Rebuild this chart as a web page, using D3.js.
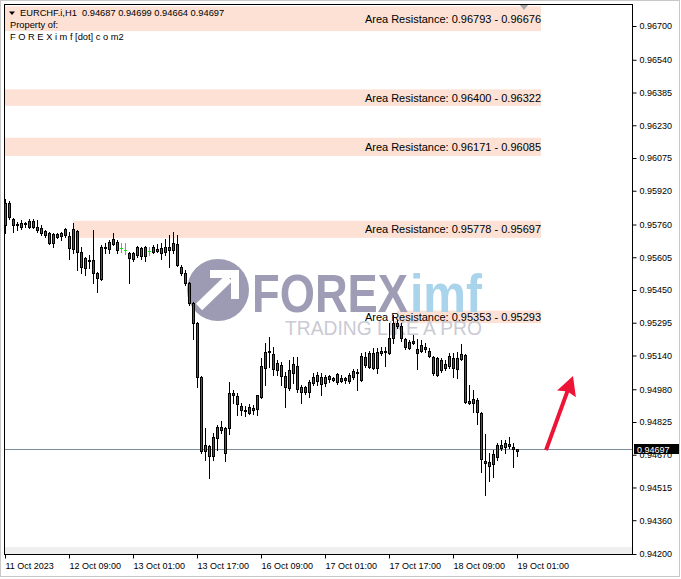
<!DOCTYPE html>
<html><head><meta charset="utf-8">
<script src="https://cdn.jsdelivr.net/npm/d3@7"></script>
<style>
body{margin:0;background:#fff;}
svg{display:block;font-family:"Liberation Sans",Arial,sans-serif;}
</style>
</head><body>
<svg id="c" width="681" height="579"></svg>
<script>
// ---------------- DATA ----------------
const symbolTitle = "EURCHF.i,H1";
const ownerLines = ["Property of:", "F O R E X i m f [dot] c o m2"];
const timeLabels = ["11 Oct 2023","12 Oct 09:00","13 Oct 01:00","13 Oct 17:00","16 Oct 09:00","17 Oct 01:00","17 Oct 17:00","18 Oct 09:00","19 Oct 01:00"];
const timeLabelBar = [0,16,32,48,64,80,96,112,128];
const priceTickValues = [0.96700,0.96540,0.96385,0.96230,0.96075,0.95920,0.95760,0.95605,0.95450,0.95295,0.95140,0.94980,0.94825,0.94670,0.94515,0.94360,0.94200];
const priceTickLabels = ["0.96700","0.96540","0.96385","0.96230","0.96075","0.95920","0.95760","0.95605","0.95450","0.95295","0.95140","0.94980","0.94825","0.94670","0.94515","0.94360","0.94200"];

const opens = [0.95758,0.95862,0.95786,0.95758,0.95748,0.95763,0.95748,0.95777,0.95734,0.95744,
0.95710,0.95720,0.95672,0.95701,0.95706,0.95710,0.95706,0.95644,0.95729,0.95630,
0.95554,0.95592,0.95592,0.95530,0.95502,0.95649,0.95644,0.95668,0.95677,0.95649,
0.95639,0.95625,0.95597,0.95616,0.95649,0.95611,0.95635,0.95630,0.95644,0.95649,
0.95630,0.95654,0.95639,0.95668,0.95559,0.95530,0.95483,0.95388,0.95294,0.95038,
0.94688,0.94711,0.94664,0.94749,0.94801,0.94678,0.94797,0.94953,0.94948,0.94901,
0.94877,0.94868,0.94882,0.94887,0.94943,0.95081,0.95156,0.95147,0.95071,0.95095,
0.95043,0.94986,0.95057,0.95090,0.94991,0.94991,0.94967,0.95010,0.95019,0.95038,
0.95010,0.95043,0.95024,0.95014,0.95019,0.95033,0.95019,0.95038,0.95057,0.95024,
0.95133,0.95085,0.95152,0.95081,0.95152,0.95156,0.95152,0.95223,0.95280,0.95280,
0.95218,0.95175,0.95199,0.95171,0.95161,0.95180,0.95161,0.95133,0.95048,0.95119,
0.95081,0.95090,0.95128,0.95076,0.95123,0.95142,0.94915,0.94915,0.94929,0.94868,
0.94640,0.94617,0.94626,0.94659,0.94702,0.94707,0.94711,0.94707,0.94687];
const highs = [0.95881,0.95871,0.95791,0.95772,0.95781,0.95772,0.95786,0.95786,0.95781,0.95758,
0.95734,0.95725,0.95720,0.95720,0.95725,0.95744,0.95725,0.95767,0.95734,0.95654,
0.95606,0.95616,0.95734,0.95535,0.95663,0.95672,0.95687,0.95720,0.95687,0.95672,
0.95672,0.95630,0.95630,0.95658,0.95654,0.95658,0.95654,0.95663,0.95668,0.95672,
0.95692,0.95710,0.95725,0.95710,0.95568,0.95545,0.95488,0.95393,0.95299,0.95043,
0.94797,0.94716,0.94773,0.94811,0.94830,0.94801,0.95014,0.94977,0.94962,0.94915,
0.94901,0.94910,0.94906,0.94953,0.95128,0.95199,0.95227,0.95180,0.95119,0.95109,
0.95062,0.95119,0.95133,0.95133,0.95000,0.94995,0.95024,0.95057,0.95062,0.95057,
0.95048,0.95048,0.95038,0.95057,0.95048,0.95038,0.95057,0.95076,0.95076,0.95152,
0.95156,0.95161,0.95175,0.95175,0.95180,0.95180,0.95294,0.95332,0.95308,0.95294,
0.95223,0.95213,0.95237,0.95218,0.95213,0.95199,0.95175,0.95138,0.95133,0.95128,
0.95119,0.95152,0.95152,0.95156,0.95194,0.95147,0.95000,0.94977,0.94939,0.94872,
0.94768,0.94678,0.94692,0.94726,0.94740,0.94740,0.94754,0.94726,0.94699];
const lows = [0.95720,0.95786,0.95725,0.95734,0.95739,0.95748,0.95744,0.95744,0.95725,0.95710,
0.95701,0.95668,0.95654,0.95696,0.95687,0.95701,0.95597,0.95625,0.95545,0.95530,
0.95521,0.95554,0.95483,0.95441,0.95497,0.95625,0.95625,0.95663,0.95625,0.95630,
0.95620,0.95483,0.95587,0.95606,0.95597,0.95587,0.95616,0.95625,0.95630,0.95597,
0.95616,0.95559,0.95625,0.95564,0.95521,0.95474,0.95379,0.95218,0.94991,0.94678,
0.94645,0.94560,0.94645,0.94692,0.94773,0.94640,0.94768,0.94915,0.94858,0.94858,
0.94853,0.94863,0.94863,0.94858,0.94939,0.95000,0.95085,0.95048,0.95048,0.95000,
0.94896,0.94977,0.95010,0.94967,0.94915,0.94958,0.94943,0.95000,0.95000,0.94953,
0.94995,0.95014,0.95019,0.95005,0.95014,0.95010,0.95010,0.95029,0.94977,0.95019,
0.95085,0.95081,0.95076,0.95057,0.95142,0.95090,0.95147,0.95199,0.95270,0.95208,
0.95171,0.95171,0.95194,0.95076,0.95156,0.95156,0.95133,0.95048,0.95043,0.95062,
0.95071,0.95081,0.95038,0.95033,0.95119,0.94915,0.94910,0.94872,0.94816,0.94588,
0.94479,0.94546,0.94565,0.94645,0.94692,0.94678,0.94702,0.94612,0.94664];
const closes = [0.95862,0.95796,0.95758,0.95763,0.95767,0.95767,0.95777,0.95748,0.95748,0.95720,
0.95729,0.95672,0.95715,0.95715,0.95720,0.95739,0.95649,0.95739,0.95630,0.95559,
0.95601,0.95587,0.95530,0.95507,0.95654,0.95654,0.95677,0.95692,0.95639,0.95649,
0.95639,0.95601,0.95625,0.95654,0.95611,0.95654,0.95635,0.95654,0.95635,0.95625,
0.95654,0.95639,0.95672,0.95568,0.95530,0.95483,0.95388,0.95294,0.95038,0.94688,
0.94716,0.94664,0.94754,0.94801,0.94787,0.94797,0.94962,0.94962,0.94910,0.94882,
0.94882,0.94896,0.94891,0.94953,0.95090,0.95156,0.95161,0.95076,0.95104,0.95043,
0.94991,0.95071,0.95100,0.94981,0.94967,0.94967,0.95014,0.95038,0.95048,0.95005,
0.95038,0.95029,0.95033,0.95052,0.95033,0.95024,0.95048,0.95067,0.95062,0.95138,
0.95095,0.95152,0.95081,0.95156,0.95161,0.95161,0.95223,0.95294,0.95294,0.95223,
0.95180,0.95204,0.95208,0.95152,0.95190,0.95171,0.95138,0.95057,0.95128,0.95071,
0.95100,0.95138,0.95081,0.95128,0.95147,0.94920,0.94924,0.94934,0.94872,0.94650,
0.94631,0.94636,0.94673,0.94716,0.94716,0.94726,0.94721,0.94697,0.94697];

const zoneHigh  = [0.96793,0.96400,0.96171,0.95778,0.95353];
const zoneLow   = [0.96676,0.96322,0.96085,0.95697,0.95293];
const zoneStart = [-2,-2,-2,17,98];
const zoneEnd   = [134,134,134,134,134];
const zoneName  = "Area Resistance: ";

const lastPrice = 0.94697;
const arrowTail = [135.25, 0.94692];
const arrowTip  = [142, 0.95043];

// ---------------- LAYOUT ----------------
const svg = d3.select("#c");
const L = 4, R = 633, T = 4, B = 555;
const x = d3.scaleLinear().domain([0,128]).range([5,517]);
const y = d3.scaleLinear().domain([0.942,0.967]).range([554,26]);

const colUp = "#078a07", colDn = "#f01010", colDoji = "#1ee01e";

svg.append("defs").append("clipPath").attr("id","clip")
  .append("rect").attr("x",L).attr("y",T).attr("width",R-L).attr("height",B-T);

// outer frame
svg.append("rect").attr("x",0.5).attr("y",0.5).attr("width",679).attr("height",576)
  .attr("fill","#fff").attr("stroke","#c8c8c8");

const plot = svg.append("g").attr("clip-path","url(#clip)");

// bottom grey strip
plot.append("rect").attr("x",L).attr("y",547).attr("width",R-L).attr("height",B-547).attr("fill","#efefef");

// zones
const zones = zoneHigh.map((h,i)=>({h, l:zoneLow[i], s:zoneStart[i], e:zoneEnd[i]}));
plot.selectAll("rect.zone").data(zones).join("rect").attr("class","zone")
  .attr("x", d=>x(d.s)).attr("width", d=>x(d.e)-x(d.s))
  .attr("y", d=>y(d.h)).attr("height", d=>y(d.l)-y(d.h))
  .attr("fill","#fce1d4");

// watermark
const wm = plot.append("g");
wm.append("circle").attr("cx",218).attr("cy",290).attr("r",31).attr("fill","#9c9bb3");
wm.append("path").attr("d","M199,307 L229,278").attr("stroke","#fff").attr("stroke-width",9).attr("fill","none");
wm.append("path").attr("d","M210,274 L235,274 L235,299").attr("stroke","#fff").attr("stroke-width",8).attr("fill","none").attr("stroke-linejoin","miter");
wm.append("text").attr("x",252).attr("y",312).attr("textLength",156).attr("lengthAdjust","spacingAndGlyphs")
  .attr("font-size",54).attr("font-weight","bold").attr("fill","#9e9db5").text("FOREX");
wm.append("text").attr("x",410).attr("y",312).attr("textLength",72).attr("lengthAdjust","spacingAndGlyphs")
  .attr("font-size",54).attr("font-weight","bold").attr("fill","#a9d4ec").text("imf");
wm.append("text").attr("x",285).attr("y",335).attr("textLength",197).attr("lengthAdjust","spacingAndGlyphs")
  .attr("font-size",21).attr("fill","#cacad4").text("TRADING LIKE A PRO");

// zone labels
plot.selectAll("text.zl").data(zones).join("text").attr("class","zl")
  .attr("x", d=>x(d.e)).attr("y", d=>(y(d.h)+y(d.l))/2 + 4)
  .attr("text-anchor","end").attr("font-size",11).attr("fill","#000")
  .text(d=>zoneName + d.h.toFixed(5) + " - " + d.l.toFixed(5));

// last price line
plot.append("line").attr("x1",L).attr("x2",R).attr("y1",Math.round(y(lastPrice))+0.5).attr("y2",Math.round(y(lastPrice))+0.5)
  .attr("stroke","#7b8b9b").attr("stroke-width",1);

// candles
const candles = opens.map((o,i)=>({i,o,h:highs[i],l:lows[i],c:closes[i]}));
const cg = plot.append("g");
cg.selectAll("rect.wick").data(candles).join("rect").attr("class","wick")
  .attr("x", d=>Math.round(x(d.i))).attr("width",1)
  .attr("y", d=>Math.round(y(d.h)))
  .attr("height", d=>Math.round(y(d.l))-Math.round(y(d.h))+1)
  .attr("fill", d=>d.o===d.c?colDoji:"#000");
const bodies = candles.filter(d=>d.o!==d.c);
cg.selectAll("rect.bo").data(bodies).join("rect").attr("class","bo")
  .attr("x", d=>Math.round(x(d.i))-1).attr("width",3)
  .attr("y", d=>Math.round(y(Math.max(d.o,d.c))))
  .attr("height", d=>Math.max(2, Math.round(y(Math.min(d.o,d.c)))-Math.round(y(Math.max(d.o,d.c)))+1))
  .attr("fill","#000");
cg.selectAll("rect.bi").data(bodies.filter(d=>Math.round(y(Math.min(d.o,d.c)))-Math.round(y(Math.max(d.o,d.c)))>1)).join("rect").attr("class","bi")
  .attr("x", d=>Math.round(x(d.i))).attr("width",1)
  .attr("y", d=>Math.round(y(Math.max(d.o,d.c)))+1)
  .attr("height", d=>Math.round(y(Math.min(d.o,d.c)))-Math.round(y(Math.max(d.o,d.c)))-1)
  .attr("fill", d=>d.c>d.o?colUp:colDn);
cg.selectAll("rect.dj").data(candles.filter(d=>d.o===d.c)).join("rect").attr("class","dj")
  .attr("x", d=>Math.round(x(d.i))-1).attr("width",3)
  .attr("y", d=>Math.round(y(d.c))).attr("height",1).attr("fill",colDoji);

// arrow
{
  const tx = x(arrowTail[0]), ty = y(arrowTail[1]);
  const px = x(arrowTip[0]),  py = y(arrowTip[1]);
  const dx = px-tx, dy = py-ty, len = Math.hypot(dx,dy);
  const ux = dx/len, uy = dy/len, nx = -uy, ny = ux;
  const hl = 19, hw = 10, sw = 2;
  const bx = px - ux*hl, by = py - uy*hl;
  const pts = [
    [tx+nx*sw, ty+ny*sw],[bx+nx*sw+ux*2, by+ny*sw+uy*2],[bx+nx*hw, by+ny*hw],[px,py],
    [bx-nx*hw, by-ny*hw],[bx-nx*sw+ux*2, by-ny*sw+uy*2],[tx-nx*sw, ty-ny*sw]];
  plot.append("path").attr("d","M"+pts.map(p=>p.join(",")).join("L")+"Z").attr("fill","#ee1436");
}

// header
svg.append("path").attr("d","M9,11.5 L15,11.5 L12,15 Z").attr("fill","#000");
svg.append("text").attr("x",20).attr("y",16).attr("font-size",9.3).attr("fill","#000")
  .attr("xml:space","preserve").style("white-space","pre")
  .text(symbolTitle + "  " + [opens[128],highs[128],lows[128],closes[128]].map(v=>v.toFixed(5)).join(" "));
svg.selectAll("text.own").data(ownerLines).join("text").attr("class","own")
  .attr("x",10).attr("y",(d,i)=>28+12*i).attr("font-size",9.3).attr("fill","#000").text(d=>d);

// shift marker
svg.append("path").attr("d","M519,4 L529,4 L524,10 Z").attr("fill","#a8a8a8");

// frame
svg.append("rect").attr("x",L+0.5).attr("y",T+0.5).attr("width",R-L-1).attr("height",B-T-1)
  .attr("fill","none").attr("stroke","#000");

// price axis
const ya = svg.append("g").attr("transform",`translate(${R-0.5},0)`)
  .call(d3.axisRight(y).tickValues(priceTickValues).tickFormat((d,i)=>priceTickLabels[i]).tickSize(4).tickPadding(3));
ya.select(".domain").remove();
ya.selectAll("line").attr("stroke","#000");
ya.selectAll("text").attr("font-size",9).attr("font-family","Liberation Sans, Arial, sans-serif").attr("fill","#000");

// last price label
{
  const yy = Math.round(y(lastPrice));
  svg.append("rect").attr("x",634).attr("y",yy-5).attr("width",45).attr("height",10).attr("fill","#000");
  svg.append("text").attr("x",637).attr("y",yy+3.5).attr("font-size",9).attr("fill","#fff").text(lastPrice.toFixed(5));
}

// time axis
const xa = svg.append("g").attr("transform",`translate(0,${B-0.5})`)
  .call(d3.axisBottom(x).tickValues(timeLabelBar).tickFormat((d,i)=>timeLabels[i]).tickSize(4).tickPadding(2));
xa.select(".domain").remove();
xa.selectAll("line").attr("stroke","#000");
xa.selectAll("text").attr("text-anchor","start").attr("x",0).attr("dy","0.9em")
  .attr("font-size",9).attr("font-family","Liberation Sans, Arial, sans-serif").attr("fill","#000");
</script>
</body></html>
